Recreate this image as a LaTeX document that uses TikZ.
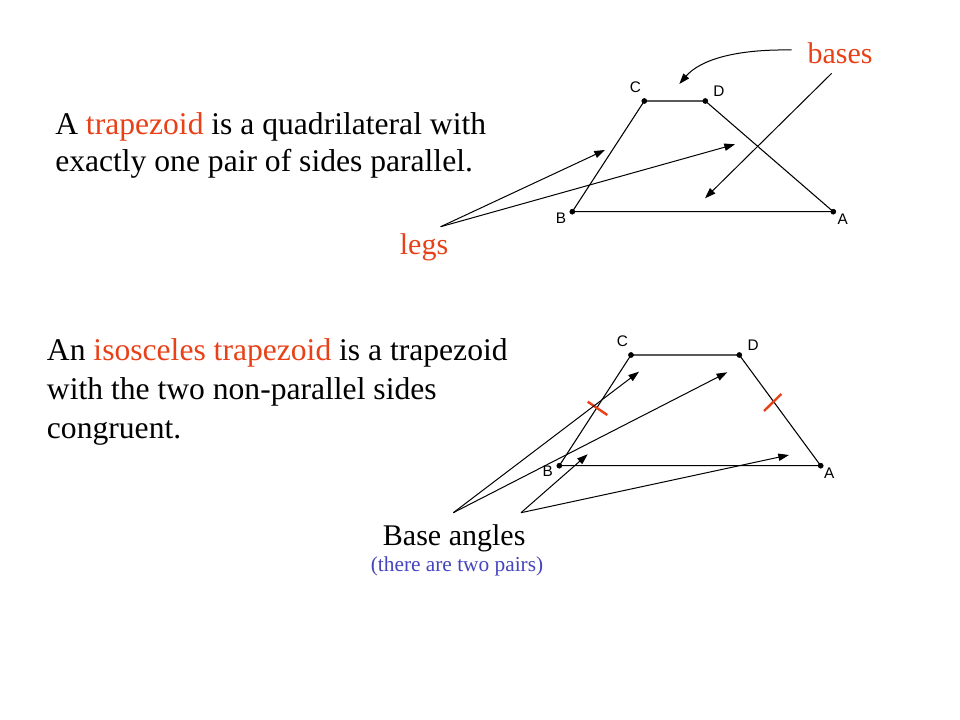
\documentclass[tikz,border=0pt]{standalone}
\usepackage{fontspec}
\usetikzlibrary{arrows.meta}
\setmainfont{Liberation Serif}
\newfontfamily\ptfont{Liberation Sans}
\definecolor{hl}{RGB}{232, 65, 24}
\definecolor{note}{RGB}{68, 68, 190}
\tikzset{
  txt/.style={anchor=base west, inner sep=0pt, font=\fontsize{23.7}{28}\selectfont},
  lbl/.style={anchor=base, inner sep=0pt, font=\fontsize{22.5}{26}\selectfont},
  ptlbl/.style={anchor=base, inner sep=0pt, font=\ptfont\fontsize{11.5}{13}\selectfont},
  side/.style={line width=0.8pt},
  ptr/.style={line width=0.75pt, -{Triangle[length=8pt,width=5.5pt]}},
  tick/.style={color=hl, line width=1.8pt}
}

\begin{document}
\begin{tikzpicture}[x=0.75pt, y=-0.75pt]
        \useasboundingbox (0, 0) rectangle (960, 720);

        % definition of a trapezoid
        \node[txt] (def1) at (55, 135) {A \textcolor{hl}{trapezoid} is a quadrilateral with};
        \node[txt] (def2) at (55, 171.7) {exactly one pair of sides parallel.};

        \coordinate (tA) at (833.3, 211.7);
        \coordinate (tB) at (572.3, 211.7);
        \coordinate (tC) at (644.3, 101);
        \coordinate (tD) at (705.3, 101);
        \draw[side] (tB) -- (tC) -- (tD) -- (tA) -- cycle;
        \foreach \p in {tA, tB, tC, tD}
            \filldraw (\p) circle (1.9pt);
        \node[ptlbl] (labA) at (842.7, 225) {A};
        \node[ptlbl] (labB) at (561, 224) {B};
        \node[ptlbl] (labC) at (635.3, 92.7) {C};
        \node[ptlbl] (labD) at (718.8, 96.7) {D};

        \node[lbl, text=hl] (bases) at (840, 63.3) {bases};
        \coordinate (basesA) at (791.7, 50);
        \coordinate (basesB) at (831.7, 73.3);
        \coordinate (topTip) at (679.3, 84);
        \coordinate (botTip) at (705, 198.3);
        \draw[ptr] (basesA) .. controls (735, 49) and (700, 60) .. (topTip);
        \draw[ptr] (basesB) -- (botTip);

        \node[lbl, text=hl] (legs) at (424, 255) {legs};
        \coordinate (legsFrom) at (440.7, 226.7);
        \coordinate (legTipL) at (605, 150);
        \coordinate (legTipR) at (735, 144.3);
        \draw[ptr] (legsFrom) -- (legTipL);
        \draw[ptr] (legsFrom) -- (legTipR);

        % definition of an isosceles trapezoid
        \node[txt] (iso1) at (46.7, 360.7) {An \textcolor{hl}{isosceles trapezoid} is a trapezoid};
        \node[txt] (iso2) at (46.7, 399.3) {with the two non-parallel sides};
        \node[txt] (iso3) at (46.7, 438.3) {congruent.};

        \coordinate (iA) at (820.7, 465.7);
        \coordinate (iB) at (559.3, 465.7);
        \coordinate (iC) at (631, 355);
        \coordinate (iD) at (739.3, 355);
        \draw[side] (iB) -- (iC) -- (iD) -- (iA) -- cycle;
        \foreach \p in {iA, iB, iC, iD}
            \filldraw (\p) circle (1.9pt);
        \node[ptlbl] (ilabA) at (829.2, 478.3) {A};
        \node[ptlbl] (ilabB) at (547.8, 476.7) {B};
        \node[ptlbl] (ilabC) at (622.5, 346.7) {C};
        \node[ptlbl] (ilabD) at (753.2, 350) {D};

        % congruence marks
        \draw[tick] (587.7, 401.7) -- (607.3, 415);
        \draw[tick] (764, 411) -- (781.3, 394);

        \node[lbl] (angles) at (454.2, 545) {Base angles};
        \node[anchor=base, inner sep=0pt, text=note, font=\fontsize{16}{19}\selectfont] (pairs) at (457, 571.7) {(there are two pairs)};
        \coordinate (angFromL) at (453.3, 512.7);
        \coordinate (angFromR) at (521, 512.7);
        \coordinate (angTipC) at (639, 371.7);
        \coordinate (angTipD) at (727.3, 372.3);
        \coordinate (angTipB) at (587.7, 454.3);
        \coordinate (angTipA) at (789, 455);
        \draw[ptr] (angFromL) -- (angTipC);
        \draw[ptr] (angFromL) -- (angTipD);
        \draw[ptr] (angFromR) -- (angTipB);
        \draw[ptr] (angFromR) -- (angTipA);
    \end{tikzpicture}
\end{document}
